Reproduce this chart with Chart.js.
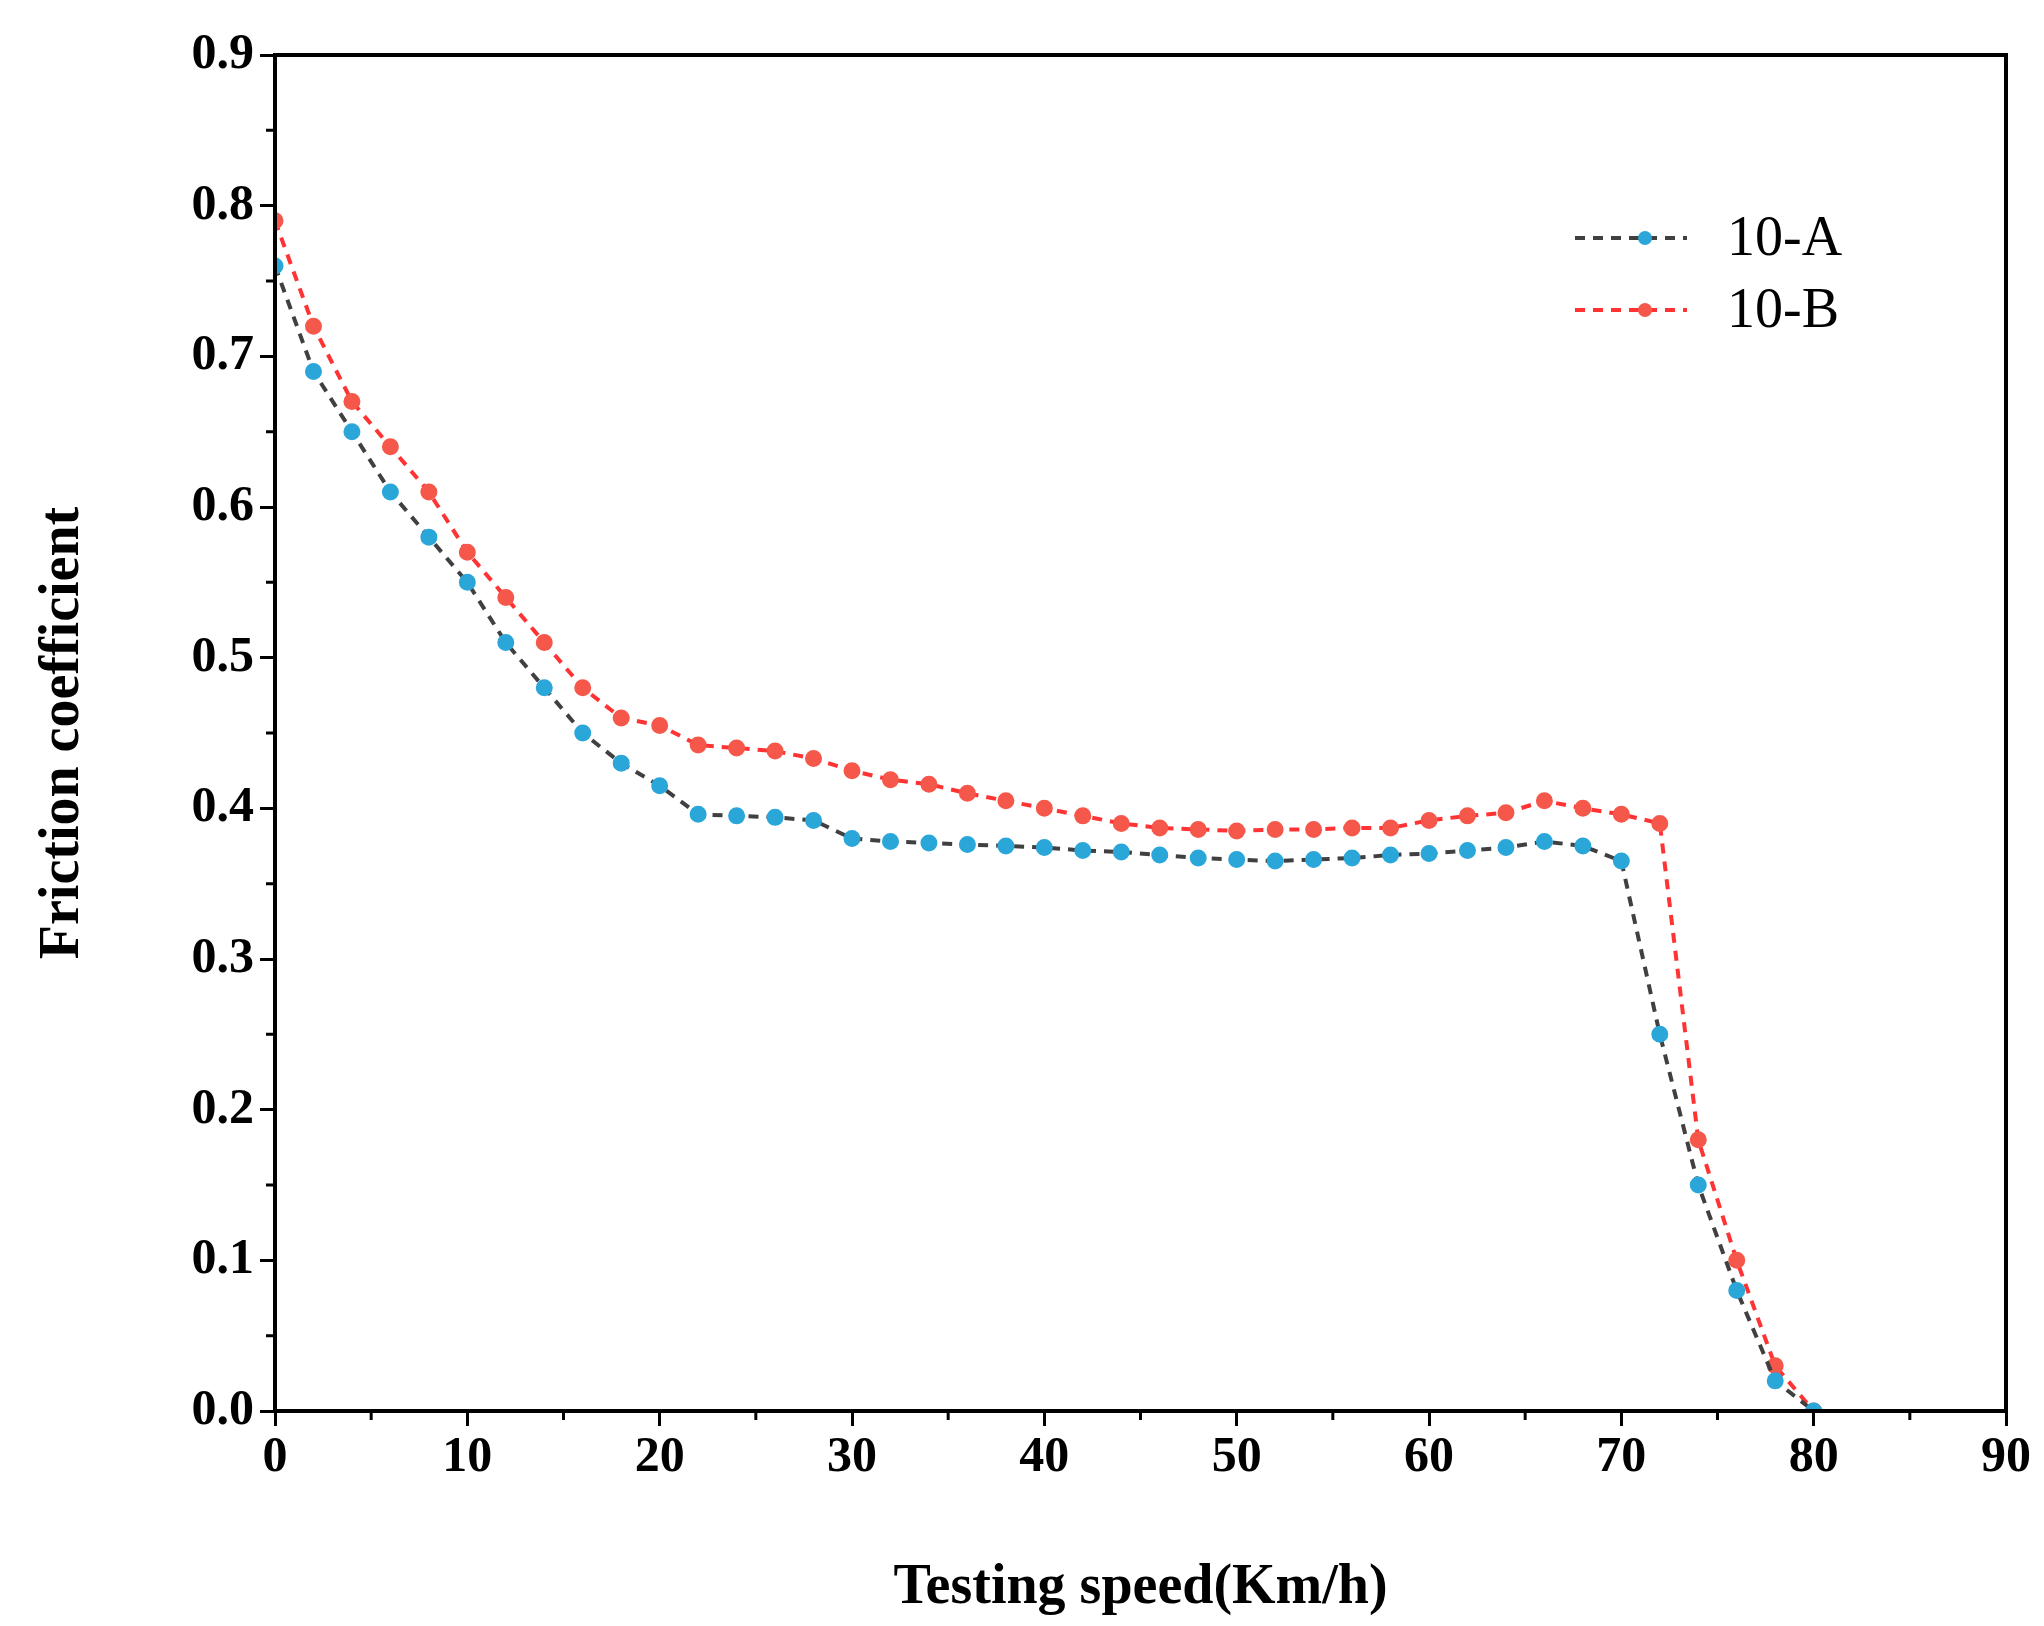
<!DOCTYPE html>
<html><head><meta charset="utf-8">
<script src="https://cdn.jsdelivr.net/npm/chart.js@4/dist/chart.umd.min.js"></script>
<style>html,body{margin:0;background:#fff}#wrap{width:2044px;height:1626px}</style>
</head><body><div id="wrap"><canvas id="c" width="2044" height="1626"></canvas></div>
<script>
const speedsA = [0,2,4,6,8,10,12,14,16,18,20,22,24,26,28,30,32,34,36,38,40,42,44,46,48,50,52,54,56,58,60,62,64,66,68,70,72,74,76,78,80];
const frictionA = [0.76,0.69,0.65,0.61,0.58,0.55,0.51,0.48,0.45,0.43,0.415,0.396,0.395,0.394,0.392,0.38,0.378,0.377,0.376,0.375,0.374,0.372,0.371,0.369,0.367,0.366,0.365,0.366,0.367,0.369,0.37,0.372,0.374,0.378,0.375,0.365,0.25,0.15,0.08,0.02,0.0];
const speedsB = speedsA;
const frictionB = [0.79,0.72,0.67,0.64,0.61,0.57,0.54,0.51,0.48,0.46,0.455,0.442,0.44,0.438,0.433,0.425,0.419,0.416,0.41,0.405,0.4,0.395,0.39,0.387,0.386,0.385,0.386,0.386,0.387,0.387,0.392,0.395,0.397,0.405,0.4,0.396,0.39,0.18,0.1,0.03,0.0];
const seriesNames = ['10-A', '10-B'];
const lineColors = ['#404040', '#ff3333'];
const pointColors = ['#2aa6d8', '#f5584a'];

const FONT = '"Liberation Serif", "Times New Roman", serif';

const frame = {
  id: 'frame',
  afterDraw(chart) {
    const {ctx, chartArea: a, scales: {x, y}} = chart;
    ctx.save();
    ctx.strokeStyle = '#000'; ctx.lineWidth = 4;
    ctx.strokeRect(a.left, a.top, a.right - a.left, a.bottom - a.top);
    ctx.lineWidth = 3;
    ctx.beginPath();
    for (let v = 0.05; v < 0.9; v += 0.1) {
      const p = y.getPixelForValue(v);
      ctx.moveTo(a.left, p); ctx.lineTo(a.left - 9, p);
    }
    for (let v = 5; v < 90; v += 10) {
      const p = x.getPixelForValue(v);
      ctx.moveTo(p, a.bottom); ctx.lineTo(p, a.bottom + 9);
    }
    ctx.stroke();
    // legend
    const lx = 1575, ly = [238, 310];
    for (let i = 0; i < 2; i++) {
      ctx.strokeStyle = lineColors[i]; ctx.lineWidth = 4; ctx.setLineDash([10, 8]);
      ctx.beginPath(); ctx.moveTo(lx, ly[i]); ctx.lineTo(lx + 112, ly[i]); ctx.stroke();
      ctx.setLineDash([]);
      ctx.fillStyle = pointColors[i];
      ctx.beginPath(); ctx.arc(lx + 70, ly[i], 7, 0, Math.PI * 2); ctx.fill();
      ctx.fillStyle = '#000'; ctx.font = '56px ' + FONT; ctx.textBaseline = 'middle';
      ctx.fillText(seriesNames[i], lx + 152, ly[i] + 2);
    }
    ctx.restore();
  }
};

function ds(i, xs, ys) {
  return {
    label: seriesNames[i],
    data: xs.map((v, k) => ({x: v, y: ys[k]})),
    borderColor: lineColors[i], borderWidth: 4, borderDash: [10, 8],
    pointBackgroundColor: pointColors[i], pointBorderColor: pointColors[i],
    pointRadius: 6.5, tension: 0
  };
}

new Chart(document.getElementById('c'), {
  type: 'line',
  data: { datasets: [ds(0, speedsA, frictionA), ds(1, speedsB, frictionB)] },
  options: {
    responsive: false, animation: false,
    layout: { padding: { top: 55, right: 38 } },
    plugins: { legend: { display: false }, tooltip: { enabled: false } },
    scales: {
      x: {
        type: 'linear', min: 0, max: 90,
        ticks: { stepSize: 10, color: '#000', font: { family: FONT, size: 50, weight: 'bold' }, padding: 2 },
        grid: { drawOnChartArea: false, tickLength: 15, tickWidth: 3, tickColor: '#000' },
        border: { color: '#000', width: 4 },
        title: { display: true, text: 'Testing speed(Km/h)', color: '#000', font: { family: FONT, size: 56, weight: 'bold' }, padding: { top: 34 } },
        afterFit(s) { s.height = 215; }
      },
      y: {
        min: 0, max: 0.9,
        ticks: { stepSize: 0.1, color: '#000', font: { family: FONT, size: 50, weight: 'bold' }, padding: 6, callback: v => v.toFixed(1) },
        grid: { drawOnChartArea: false, tickLength: 15, tickWidth: 3, tickColor: '#000' },
        border: { color: '#000', width: 4 },
        title: { display: true, text: 'Friction coefficient', color: '#000', font: { family: FONT, size: 56, weight: 'bold' }, padding: { top: 30, bottom: 40 } },
        afterFit(s) { s.width = 275; }
      }
    }
  },
  plugins: [frame]
});
</script></body></html>
